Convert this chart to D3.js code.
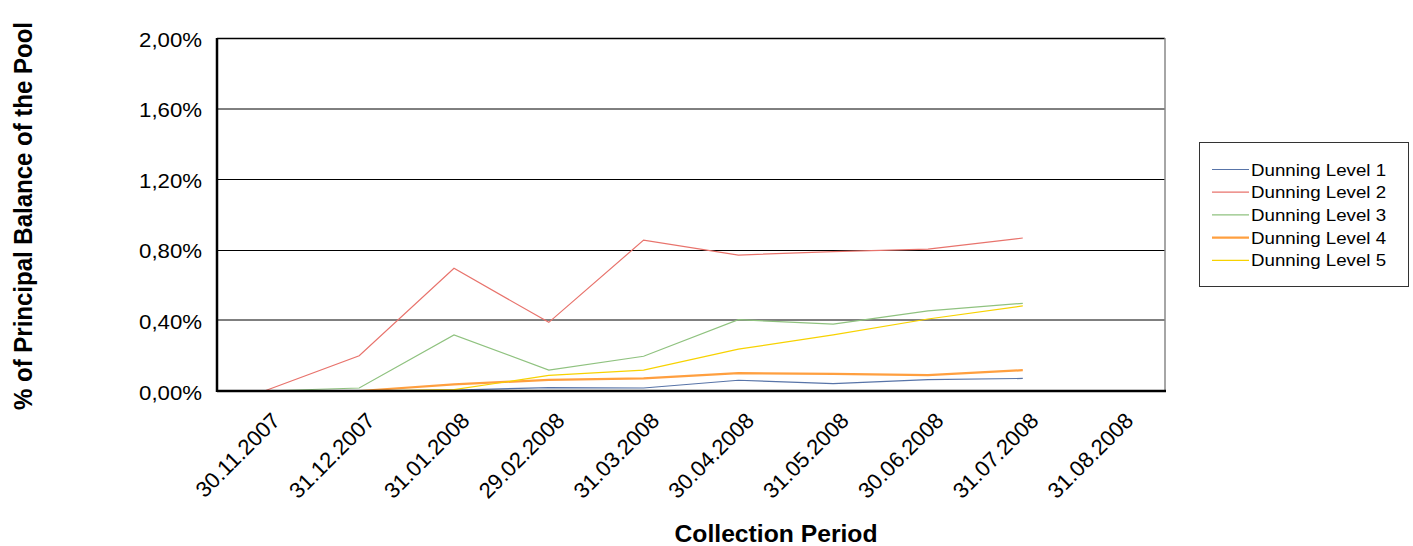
<!DOCTYPE html>
<html><head><meta charset="utf-8">
<script src="https://cdn.jsdelivr.net/npm/d3@7"></script>
<style>body{margin:0;background:#fff}svg{display:block}text{font-family:"Liberation Sans",Arial,sans-serif;fill:#000}</style>
</head><body>
<svg id="c" width="1413" height="546"></svg>
<script>
const categories = ["30.11.2007","31.12.2007","31.01.2008","29.02.2008","31.03.2008","30.04.2008","31.05.2008","30.06.2008","31.07.2008","31.08.2008"];
const level1 = [0, 0, 0.005, 0.019, 0.017, 0.061, 0.042, 0.065, 0.071, null];
const level2 = [0, 0.20, 0.695, 0.389, 0.855, 0.77, 0.79, 0.804, 0.867, null];
const level3 = [0, 0.017, 0.318, 0.118, 0.197, 0.404, 0.379, 0.454, 0.497, null];
const level4 = [0, 0, 0.038, 0.063, 0.071, 0.101, 0.097, 0.09, 0.118, null];
const level5 = [0, 0, 0.008, 0.088, 0.118, 0.237, 0.318, 0.408, 0.482, null];
const seriesNames = ["Dunning Level 1","Dunning Level 2","Dunning Level 3","Dunning Level 4","Dunning Level 5"];
const seriesColors = ["#5874a8","#e8736c","#8fc27f","#ff9f3f","#f7d200"];
const seriesWidths = [1.2, 1.2, 1.2, 2.2, 1.2];
const yTicks = [0, 0.4, 0.8, 1.2, 1.6, 2.0];
const series = [level1, level2, level3, level4, level5];

const svg = d3.select("#c");
const L = 217, R = 1165, T = 38, B = 391;
const x = d3.scaleBand().domain(categories).range([L, R]);
const y = d3.scaleLinear().domain([0, 2]).range([B, T]);
const fmt = v => v.toFixed(2).replace(".", ",") + "%";

// gridlines (0,40 and 1,60 render softer, straddling pixels as in the reference)
svg.append("g").selectAll("line").data(yTicks.filter(v => v > 0 && v < 2)).join("line")
  .attr("x1", L).attr("x2", R)
  .attr("y1", d => (Math.abs(d - 0.4) < 1e-9 || Math.abs(d - 1.6) < 1e-9) ? Math.round(y(d)) : Math.round(y(d)) + 0.5)
  .attr("y2", d => (Math.abs(d - 0.4) < 1e-9 || Math.abs(d - 1.6) < 1e-9) ? Math.round(y(d)) : Math.round(y(d)) + 0.5)
  .attr("stroke", "#000").attr("stroke-width", 1);
// frame
svg.append("line").attr("x1", L).attr("x2", R).attr("y1", T + 0.5).attr("y2", T + 0.5).attr("stroke", "#000").attr("stroke-width", 1.5);
svg.append("line").attr("x1", R).attr("x2", R).attr("y1", T).attr("y2", B).attr("stroke", "#888").attr("stroke-width", 1.5);

// y tick labels
svg.append("g").selectAll("text").data(yTicks).join("text")
  .attr("transform", d => `translate(202,${y(d) + 8.5}) scale(1.14,1)`)
  .attr("text-anchor", "end").style("font-size", "19.5px").text(fmt);

// x tick labels
svg.append("g").selectAll("text").data(categories).join("text")
  .attr("transform", d => `translate(${x(d) + x.bandwidth() / 2 + 17},${B + 31}) rotate(-45)`)
  .attr("text-anchor", "end").style("font-size", "22px").text(d => d);

// lines
const line = d3.line().defined(d => d != null)
  .x((d, i) => x(categories[i]) + x.bandwidth() / 2).y(d => y(d));
svg.append("g").selectAll("path").data(series).join("path")
  .attr("d", d => line(d)).attr("fill", "none")
  .attr("stroke", (d, i) => seriesColors[i]).attr("stroke-width", (d, i) => seriesWidths[i]);

// axes lines (drawn over)
svg.append("line").attr("x1", L).attr("x2", L).attr("y1", T).attr("y2", B + 1).attr("stroke", "#000").attr("stroke-width", 2.5);
svg.append("line").attr("x1", L).attr("x2", R + 1).attr("y1", B).attr("y2", B).attr("stroke", "#000").attr("stroke-width", 2.5);

// axis titles
svg.append("text").attr("transform", "translate(776,542) scale(1.06,1)").attr("text-anchor", "middle")
  .style("font-size", "23.3px").style("font-weight", "bold").text("Collection Period");
svg.append("text").attr("transform", "translate(32,216) scale(1.07,1) rotate(-90)").attr("text-anchor", "middle")
  .style("font-size", "24px").style("font-weight", "bold").text("% of Principal Balance of the Pool");

// legend
const lg = svg.append("g");
lg.append("rect").attr("x", 1199.5).attr("y", 142.5).attr("width", 209).attr("height", 144)
  .attr("fill", "#fff").attr("stroke", "#333").attr("stroke-width", 1);
const rows = lg.selectAll("g").data(seriesNames).join("g")
  .attr("transform", (d, i) => `translate(0,${169.5 + i * 22.7})`);
rows.append("line").attr("x1", 1212).attr("x2", 1249).attr("y1", 0).attr("y2", 0)
  .attr("stroke", (d, i) => seriesColors[i]).attr("stroke-width", (d, i) => seriesWidths[i]);
rows.append("text").attr("transform", "translate(1251,6) scale(1.1,1)").style("font-size", "17px").text(d => d);
</script>
</body></html>
